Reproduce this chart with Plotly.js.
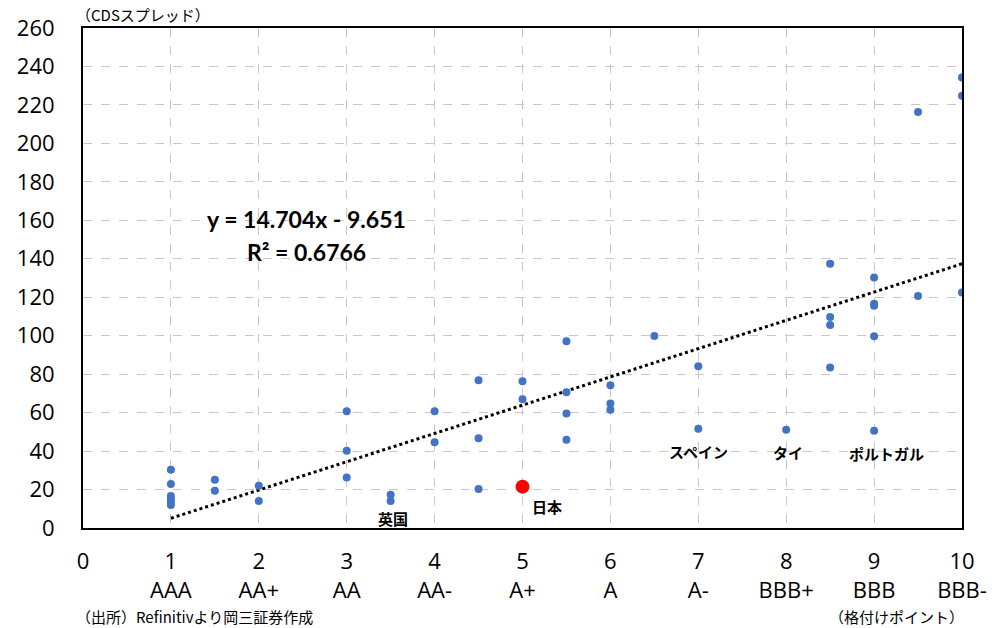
<!DOCTYPE html>
<html><head><meta charset="utf-8">
<script src="https://cdn.plot.ly/plotly-3.0.1.min.js"></script>
<style>html,body{margin:0;padding:0;background:#fff}#chart{width:992px;height:628px}</style>
</head><body><div id="chart"></div>
<script>
// Rating points (x) and CDS spreads (y)
const ratingX = [1,1,1,1,1,1, 1.5,1.5, 2,2, 3,3,3, 3.5,3.5, 4,4, 4.5,4.5,4.5, 5,5, 5.5,5.5,5.5,5.5, 6,6,6, 6.5, 7,7, 8, 8.5,8.5,8.5,8.5, 9,9,9,9,9, 9.5,9.5, 10,10,10];
const cdsY    = [30.3,22.9,16.6,15.2,13.7,12, 25.1,19.4, 22,14, 60.7,40.2,26.2, 17.3,14, 60.7,44.6, 76.8,46.7,20.3, 76.3,66.9, 97.1,70.6,59.6,45.9, 74.2,64.8,61.5, 99.8, 84.1,51.6, 51.1, 137.4,109.7,105.6,83.5, 130.2,116.6,115.6,99.7,50.6, 120.6,216.3, 234.2,224.8,122.4];
const japanX = [5];
const japanY = [21.5];
const trendSlope = 14.704;
const trendIntercept = -9.651;
const trendX = [1, 10];
const tickVals = [0,1,2,3,4,5,6,7,8,9,10];
const tickText = ["0","1<br>AAA","2<br>AA+","3<br>AA","4<br>AA-","5<br>A+","6<br>A","7<br>A-","8<br>BBB+","9<br>BBB","10<br>BBB-"];
const labelNames = ["英国","日本","スペイン","タイ","ポルトガル"];
const labelX = [3.5, 5, 7, 8, 9];
const labelY = [14, 21.5, 51.6, 51.1, 50.6];

const FONT = "'Open Sans', 'Noto Sans CJK JP', sans-serif";
const JP = "'Noto Sans CJK JP', sans-serif";

const traces = [
  {x: trendX, y: trendX.map(v => trendSlope*v + trendIntercept), mode:'lines',
   line:{color:'#000', width:3, dash:'dot'}, hoverinfo:'skip'},
  {x: ratingX, y: cdsY, mode:'markers', marker:{color:'#4472C4', size:8}},
  {x: japanX, y: japanY, mode:'markers', marker:{color:'#FF0000', size:14}}
];

const shifts = [[2,-17],[24,-20],[0,-23],[2,-23],[12,-23]];
const annotations = labelNames.map((t,i)=>({
  x: labelX[i], y: labelY[i], text: t, showarrow:false, xshift: shifts[i][0], yshift: shifts[i][1],
  font:{family:JP, size:15, color:'#000', weight:'bold'}
}));
annotations.push(
  {xref:'paper', yref:'paper', x:0.254, y:0.618, xanchor:'center', yanchor:'middle', text:'<b>y = 14.704x - 9.651</b>', showarrow:false,
   font:{family:"Lato, sans-serif", size:23, color:'#000'}},
  {xref:'paper', yref:'paper', x:0.254, y:0.552, xanchor:'center', yanchor:'middle', text:'<b>R² = 0.6766</b>', showarrow:false,
   font:{family:"Lato, sans-serif", size:23, color:'#000'}},
  {xref:'paper', yref:'paper', x:-0.01, y:1.0, xanchor:'left', yanchor:'bottom', yshift:1, text:'（CDSスプレッド）', showarrow:false,
   font:{family:JP, size:15, color:'#000'}},
  {xref:'paper', yref:'paper', x:-0.01, y:0, yshift:-88, xanchor:'left', yanchor:'middle', text:'（出所）Refinitivより岡三証券作成', showarrow:false,
   font:{family:JP, size:15, color:'#000'}},
  {xref:'paper', yref:'paper', x:1.005, y:0, yshift:-88, xanchor:'right', yanchor:'middle', text:'（格付けポイント）', showarrow:false,
   font:{family:JP, size:15, color:'#000'}}
);

const layout = {
  width:992, height:628,
  margin:{l:83, r:30, t:28, b:100},
  showlegend:false,
  paper_bgcolor:'#fff', plot_bgcolor:'#fff',
  font:{family:FONT, color:'#000'},
  xaxis:{range:[0,10], tickvals:tickVals, ticktext:tickText, showgrid:true, gridcolor:'#c8c8c8', griddash:'dash', gridwidth:1,
    zeroline:false, showline:true, linecolor:'#000', linewidth:2, mirror:true, ticks:'', tickfont:{size:22, family:FONT}, ticklabelstandoff:13},
  yaxis:{range:[0,260], dtick:20, showgrid:true, gridcolor:'#c8c8c8', griddash:'dash', gridwidth:1,
    zeroline:false, showline:true, linecolor:'#000', linewidth:2, mirror:true, ticks:'', tickfont:{size:22, family:FONT}, ticklabelstandoff:22},
  annotations: annotations
};
Plotly.newPlot('chart', traces, layout, {displayModeBar:false, staticPlot:true});
</script></body></html>
